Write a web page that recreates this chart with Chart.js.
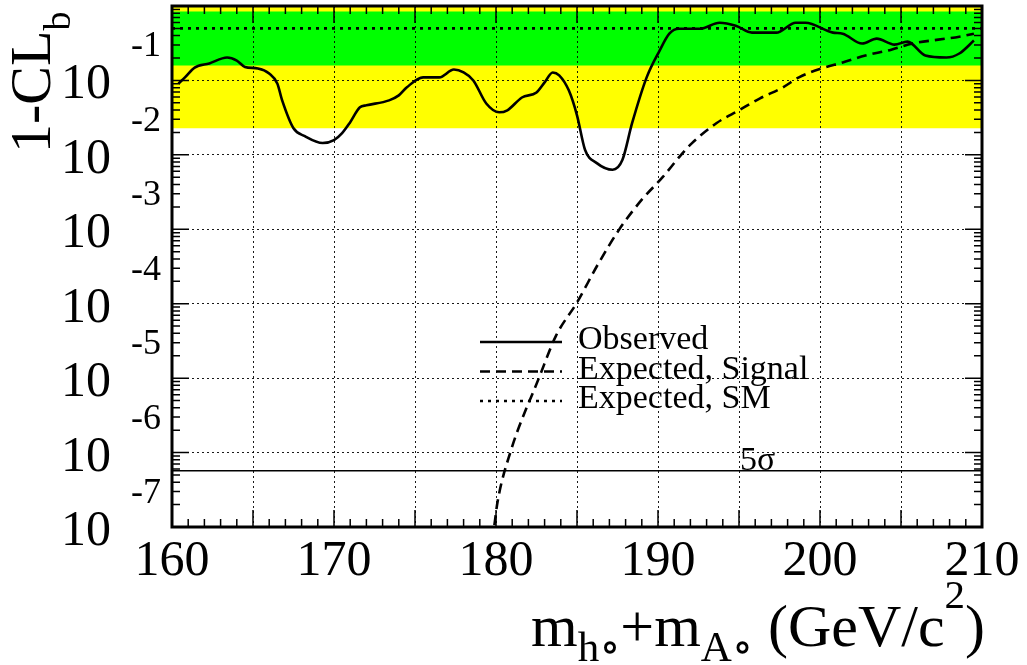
<!DOCTYPE html>
<html>
<head>
<meta charset="utf-8">
<script src="https://cdn.jsdelivr.net/npm/chart.js@4"></script>
<style>
  html, body { margin: 0; padding: 0; background: #fff; }
</style>
</head>
<body>
<canvas id="clbChart" width="1027" height="665"></canvas>
<script>
// 1-CLb versus mh+mA, observed and expected curves

const massObs = [160.4, 160.8, 161.4, 162.3, 163.4, 164.0, 164.5, 165.3, 166.0, 166.5, 166.8, 167.5, 168.2, 169.3, 170.0, 170.5, 171.0, 171.6, 172.0, 173.4, 174.0, 174.5, 175.5, 176.5, 177.4, 178.0, 178.6, 179.4, 180.2, 180.7, 181.6, 182.5, 183.0, 183.5, 183.9, 184.5, 185.0, 185.5, 186.2, 187.2, 187.8, 188.4, 189.3, 190.1, 190.7, 191.3, 192.6, 193.8, 194.8, 195.8, 197.3, 198.5, 199.1, 200.8, 201.4, 202.6, 203.5, 204.6, 205.4, 206.5, 207.8, 208.6, 209.5];
const clbObs = [0.091, 0.110, 0.149, 0.169, 0.203, 0.185, 0.152, 0.145, 0.124, 0.091, 0.054, 0.0228, 0.0178, 0.0144, 0.0158, 0.0196, 0.0275, 0.0436, 0.0463, 0.054, 0.063, 0.081, 0.110, 0.110, 0.140, 0.128, 0.100, 0.049, 0.0373, 0.0397, 0.059, 0.069, 0.094, 0.128, 0.117, 0.073, 0.034, 0.0116, 0.0078, 0.0063, 0.0085, 0.0266, 0.110, 0.252, 0.425, 0.495, 0.495, 0.596, 0.543, 0.439, 0.439, 0.596, 0.596, 0.439, 0.425, 0.313, 0.364, 0.303, 0.332, 0.216, 0.203, 0.230, 0.343];

const massSig = [179.9, 180.1, 180.9, 182.7, 183.7, 185.0, 186.3, 187.6, 189.0, 190.3, 191.3, 192.1, 193.6, 195.0, 196.3, 197.7, 198.7, 200.1, 201.4, 202.8, 204.4, 205.7, 207.3, 208.6, 209.5];
const clbSig = [1.06e-7, 2.2e-7, 1.03e-6, 1.07e-5, 3.7e-5, 1.04e-4, 3.4e-4, 9.9e-4, 0.0025, 0.00505, 0.0093, 0.0144, 0.0266, 0.0397, 0.0574, 0.0805, 0.110, 0.145, 0.174, 0.216, 0.259, 0.313, 0.353, 0.387, 0.425];

const bandMass = [160, 210];
const smExpected = [0.5, 0.5];
const band1Hi = [0.841, 0.841];
const band1Lo = [0.159, 0.159];
const band2Hi = [0.977, 0.977];
const band2Lo = [0.0228, 0.0228];
const fiveSigma = [5.7e-7, 5.7e-7];

const xTickLabels = [160, 170, 180, 190, 200, 210];
const yDecadeExponents = [-7, -6, -5, -4, -3, -2, -1];
const legendLabels = ["Observed", "Expected, Signal", "Expected, SM"];

const serif = '"Liberation Serif", "DejaVu Serif", serif';
const pts = (xs, ys) => xs.map((x, i) => ({ x: x, y: ys[i] }));
const isDecade = (v) => Math.abs(Math.log10(v) - Math.round(Math.log10(v))) < 1e-6;

// ROOT style frame, inward ticks, labels, legend and titles
const rootFrame = {
  id: "rootFrame",
  afterDraw(chart) {
    const { ctx, chartArea: a, scales: { x, y } } = chart;
    ctx.save();
    ctx.strokeStyle = "#000";
    ctx.fillStyle = "#000";

    // ticks on all four sides
    ctx.lineWidth = 1.5;
    ctx.beginPath();
    for (let m = 160; m <= 210; m++) {
      const px = x.getPixelForValue(m);
      const len = m % 5 === 0 ? 17 : 8;
      ctx.moveTo(px, a.bottom); ctx.lineTo(px, a.bottom - len);
      ctx.moveTo(px, a.top); ctx.lineTo(px, a.top + len);
    }
    for (let e = -7; e <= 0; e++) {
      for (let k = 1; k <= 9; k++) {
        const v = k * Math.pow(10, e);
        if (v > 1.0001) break;
        const py = y.getPixelForValue(v);
        const len = k === 1 ? 17 : 8;
        ctx.moveTo(a.left, py); ctx.lineTo(a.left + len, py);
        ctx.moveTo(a.right, py); ctx.lineTo(a.right - len, py);
      }
    }
    ctx.stroke();

    ctx.lineWidth = 3;
    ctx.strokeRect(a.left, a.top, a.right - a.left, a.bottom - a.top);

    // x tick labels
    ctx.font = "50px " + serif;
    ctx.textAlign = "center";
    ctx.textBaseline = "alphabetic";
    xTickLabels.forEach((m) => ctx.fillText(String(m), x.getPixelForValue(m), 575));

    // y tick labels: "10" on the line, exponent above
    yDecadeExponents.forEach((e) => {
      const py = y.getPixelForValue(Math.pow(10, e));
      ctx.font = "50px " + serif;
      ctx.textAlign = "right";
      ctx.fillText("10", 111, py + 18);
      ctx.font = "36px " + serif;
      ctx.textAlign = "left";
      ctx.fillText(String(e), 131, py - 24);
    });

    // y title
    ctx.save();
    ctx.translate(50, 153);
    ctx.rotate(-Math.PI / 2);
    ctx.font = "58px " + serif;
    ctx.textAlign = "left";
    ctx.fillText("1-CL", 0, 0);
    const w = ctx.measureText("1-CL").width;
    ctx.font = "38px " + serif;
    ctx.fillText("b", w, 20);
    ctx.restore();

    // x title
    const parts = [
      { t: "m", f: 60, dy: 0 },
      { t: "h", f: 43, dy: 15 },
      { t: "\u2218", f: 43, dy: 15 },
      { t: "+m", f: 60, dy: 0 },
      { t: "A", f: 43, dy: 15 },
      { t: "\u2218", f: 43, dy: 15 },
      { t: " (GeV/c", f: 60, dy: 0 },
      { t: "2", f: 41, dy: -38 },
      { t: ")", f: 60, dy: 0 }
    ];
    ctx.textAlign = "left";
    let total = 0;
    parts.forEach((p) => { ctx.font = p.f + "px " + serif; p.w = ctx.measureText(p.t).width; total += p.w; });
    let cx = 985 - total;
    parts.forEach((p) => { ctx.font = p.f + "px " + serif; ctx.fillText(p.t, cx, 646 + p.dy); cx += p.w; });

    // legend
    const legendRows = [0, 1, 2];
    ctx.font = "34px " + serif;
    legendRows.forEach((i, r) => {
      const ds = chart.data.datasets[i];
      const ly = 342 + r * 29.5;
      ctx.save();
      ctx.lineWidth = ds.borderWidth;
      ctx.setLineDash(ds.borderDash || []);
      ctx.beginPath();
      ctx.moveTo(480, ly); ctx.lineTo(562, ly);
      ctx.stroke();
      ctx.restore();
      ctx.fillText(legendLabels[r], 578, ly + 7);
    });

    // 5 sigma text
    ctx.font = "34px " + serif;
    ctx.fillText("5\u03c3", 740, y.getPixelForValue(fiveSigma[0]) - 1);

    ctx.restore();
  }
};

const ctx = document.getElementById("clbChart");

new Chart(ctx, {
  type: "line",
  data: {
    datasets: [
      {
        label: legendLabels[0],
        data: pts(massObs, clbObs),
        borderColor: "#000",
        borderWidth: 2.6,
        tension: 0.4,
        cubicInterpolationMode: "monotone",
        pointRadius: 0,
        fill: false,
        order: 1
      },
      {
        label: legendLabels[1],
        data: pts(massSig, clbSig),
        borderColor: "#000",
        borderWidth: 2.6,
        borderDash: [10, 6],
        cubicInterpolationMode: "monotone",
        pointRadius: 0,
        fill: false,
        order: 1
      },
      {
        label: legendLabels[2],
        data: pts(bandMass, smExpected),
        borderColor: "#000",
        borderWidth: 2.6,
        borderDash: [3, 5],
        pointRadius: 0,
        fill: false,
        order: 2
      },
      {
        label: "5 sigma",
        data: pts(bandMass, fiveSigma),
        borderColor: "#000",
        borderWidth: 1.3,
        pointRadius: 0,
        fill: false,
        order: 2
      },
      {
        label: "1 sigma high",
        data: pts(bandMass, band1Hi),
        borderColor: "rgba(0,0,0,0)",
        borderWidth: 0,
        backgroundColor: "#00ff00",
        pointRadius: 0,
        fill: "+1",
        order: 5
      },
      {
        label: "1 sigma low",
        data: pts(bandMass, band1Lo),
        borderColor: "rgba(0,0,0,0)",
        borderWidth: 0,
        pointRadius: 0,
        fill: false,
        order: 5
      },
      {
        label: "2 sigma high",
        data: pts(bandMass, band2Hi),
        borderColor: "rgba(0,0,0,0)",
        borderWidth: 0,
        backgroundColor: "#ffff00",
        pointRadius: 0,
        fill: "+1",
        order: 6
      },
      {
        label: "2 sigma low",
        data: pts(bandMass, band2Lo),
        borderColor: "rgba(0,0,0,0)",
        borderWidth: 0,
        pointRadius: 0,
        fill: false,
        order: 6
      }
    ]
  },
  options: {
    responsive: false,
    animation: false,
    devicePixelRatio: 1,
    layout: { padding: { top: 6, right: 45, left: 0, bottom: 0 } },
    plugins: { legend: { display: false }, tooltip: { enabled: false } },
    scales: {
      x: {
        type: "linear",
        min: 160,
        max: 210,
        ticks: { stepSize: 5, display: false },
        grid: { color: "rgba(0,0,0,0.9)", lineWidth: 1, drawTicks: false, z: 1 },
        border: { display: false, dash: [2, 3] },
        afterFit(scale) { scale.height = 138; }
      },
      y: {
        type: "logarithmic",
        min: 1e-7,
        max: 1,
        ticks: { display: false },
        grid: {
          color: (c) => (c.tick && isDecade(c.tick.value) ? "rgba(0,0,0,0.9)" : "rgba(0,0,0,0)"),
          lineWidth: 1,
          drawTicks: false,
          z: 1
        },
        border: { display: false, dash: [2, 3] },
        afterFit(scale) { scale.width = 172; }
      }
    }
  },
  plugins: [rootFrame]
});
</script>
</body>
</html>
